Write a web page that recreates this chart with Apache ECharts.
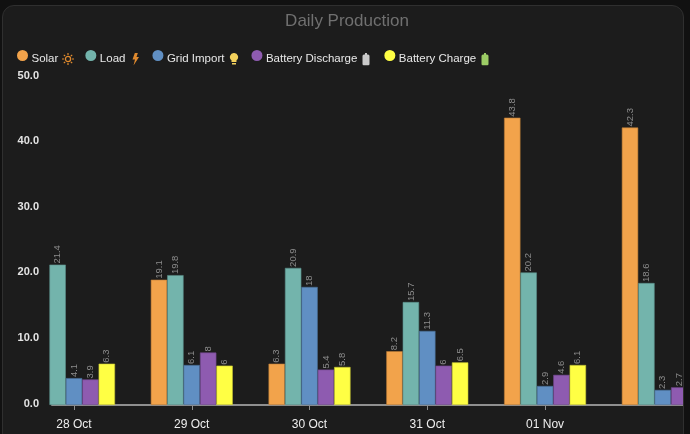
<!DOCTYPE html>
<html lang="en">
<head>
	<meta charset="UTF-8">
	<title>Daily Production</title>
	<script src="https://cdn.jsdelivr.net/npm/echarts@6/dist/echarts.min.js"></script>
	<style>
	html, body { margin:0; padding:0; width:690px; height:434px; overflow:hidden; background:#111; }
	#card { position:absolute; left:2px; top:5px; width:682px; height:440px; box-sizing:border-box; border:1px solid #2f2f2f; border-radius:12px; background:#1c1c1c; overflow:hidden; }
	#chart { position:absolute; left:-3px; top:-6px; width:690px; height:434px; }
	</style>
</head>
<body>
	<div id="card"><div id="chart"></div></div>
	<script>
	var categories = ['28 Oct', '29 Oct', '30 Oct', '31 Oct', '01 Nov', '02 Nov'];
	var shownTicks = [0, 1, 2, 3, 4];
	var seriesNames = ['Solar', 'Load', 'Grid Import', 'Battery Discharge', 'Battery Charge'];
	var colors = ['#f2a34b', '#73b4ac', '#608fc3', '#8e5bb0', '#ffff44'];
	var borders = ['#b87a35', '#5a8f89', '#4a7099', '#6e4689', '#c4c434'];
	var solar = [null, 19.1, 6.3, 8.2, 43.8, 42.3];
	var load = [21.4, 19.8, 20.9, 15.7, 20.2, 18.6];
	var gridImport = [4.1, 6.1, 18, 11.3, 2.9, 2.3];
	var batteryDischarge = [3.9, 8, 5.4, 6, 4.6, 2.7];
	var batteryCharge = [6.3, 6, 5.8, 6.5, 6.1, null];
	var allValues = [solar, load, gridImport, batteryDischarge, batteryCharge];

	// little icons behind the legend names
	var batteryShape = "<path fill='COL' d='M4 2H5V0H7V2H8A1.5 1.5 0 0 1 9.5 3.5V11.5A1.5 1.5 0 0 1 8 13H4A1.5 1.5 0 0 1 2.5 11.5V3.5A1.5 1.5 0 0 1 4 2Z'/>";
	var legendIcons = [
		{ x:62, color:'#e08a2e', shape:"<circle cx='6' cy='6.5' r='2.6' fill='none' stroke='COL' stroke-width='1.3'/><path fill='none' stroke='COL' stroke-width='1.2' d='M6 0.5V2.5M6 10.5V12.5M0 6.5H2M10 6.5H12M1.8 2.3L3.2 3.7M8.8 9.3L10.2 10.7M1.8 10.7L3.2 9.3M8.8 3.7L10.2 2.3'/>" },
		{ x:129, color:'#e08a2e', shape:"<path fill='COL' d='M6 0H9L7.5 4.5H10L4.5 13L6 7H3.5Z'/>" },
		{ x:228, color:'#f3d15c', shape:"<path fill='COL' d='M6 0.5A4 4 0 0 1 8.5 7.7V9.5H3.5V7.7A4 4 0 0 1 6 0.5M4 10.5H8V12H4Z'/>" },
		{ x:360, color:'#c9c9c9', shape:batteryShape },
		{ x:479, color:'#9ccc65', shape:batteryShape }
	];

	var myChart = echarts.init(document.getElementById('chart'));

	var series = [];
	for (var s = 0; s < seriesNames.length; s++) {
		var points = [];
		for (var i = 0; i < categories.length; i++) {
			if (allValues[s][i] !== null) points.push([i, allValues[s][i]]);
		}
		series.push({
			name: seriesNames[s],
			type: 'bar',
			data: points,
			barWidth: 16.4,
			barGap: 0,
			clip: false,
			itemStyle: { color: colors[s], borderColor: borders[s], borderWidth: 0.6 },
			label: {
				show: true,
				position: 'top',
				distance: 0,
				offset: [1, 0],
				rotate: 90,
				align: 'left',
				verticalAlign: 'middle',
				color: '#8c8c8c',
				fontSize: 9.5,
				fontFamily: 'Liberation Sans',
				formatter: function (p) { return p.value[1]; }
			}
		});
	}

	var icons = legendIcons.map(function (ic) {
		var svg = "<svg xmlns='http://www.w3.org/2000/svg' width='12' height='13' viewBox='0 0 12 13'>" + ic.shape.replace(/COL/g, ic.color) + "</svg>";
		return {
			type: 'image',
			x: ic.x,
			y: 52.5,
			style: { image: 'data:image/svg+xml,' + encodeURIComponent(svg), width: 12, height: 13 }
		};
	});

	var option = {
		backgroundColor: 'transparent',
		animation: false,
		textStyle: { fontFamily: 'Liberation Sans' },
		title: {
			text: 'Daily Production',
			left: 342,
			top: 8,
			textAlign: 'center',
			textStyle: { color: '#707070', fontSize: 17, fontWeight: 'normal', fontFamily: 'Liberation Sans' }
		},
		legend: {
			left: 17,
			top: 50,
			padding: 0,
			icon: 'circle',
			itemWidth: 8,
			itemHeight: 8,
			itemGap: 27,
			selectedMode: false,
			formatter: '{t|{name}}',
			textStyle: {
				rich: {
					t: { color: '#e8e8e8', fontSize: 11.5, fontFamily: 'Liberation Sans', padding: [6, 0, 0, 0] }
				}
			},
			data: seriesNames.map(function (n, k) {
				return { name: n, itemStyle: { color: colors[k], borderColor: colors[k], borderWidth: 3 } };
			})
		},
		grid: { left: 52, right: 6, top: 77, bottom: 29 },
		xAxis: {
			type: 'value',
			min: -0.187,
			max: 5.18,
			splitLine: { show: false },
			axisLine: { lineStyle: { color: '#8f8f8f', width: 2 } },
			axisTick: { show: true, customValues: shownTicks, length: 5, lineStyle: { color: '#8f8f8f' } },
			axisLabel: {
				customValues: shownTicks,
				margin: 13.5,
				color: '#eeeeee',
				fontSize: 12,
				fontFamily: 'Liberation Sans',
				formatter: function (v) { return categories[v]; }
			}
		},
		yAxis: {
			type: 'value',
			min: 0,
			max: 50,
			interval: 10,
			splitLine: { show: false },
			axisLine: { show: false },
			axisTick: { show: false },
			axisLabel: {
				margin: 13,
				formatter: function (v) { return '{t|' + v.toFixed(1) + '}'; },
				rich: {
					t: { color: '#e4e4e4', fontSize: 11, fontWeight: 'bold', fontFamily: 'Liberation Sans', padding: [0, 0, 3, 0] }
				}
			}
		},
		graphic: icons,
		series: series
	};

	myChart.setOption(option);
	</script>
</body>
</html>
